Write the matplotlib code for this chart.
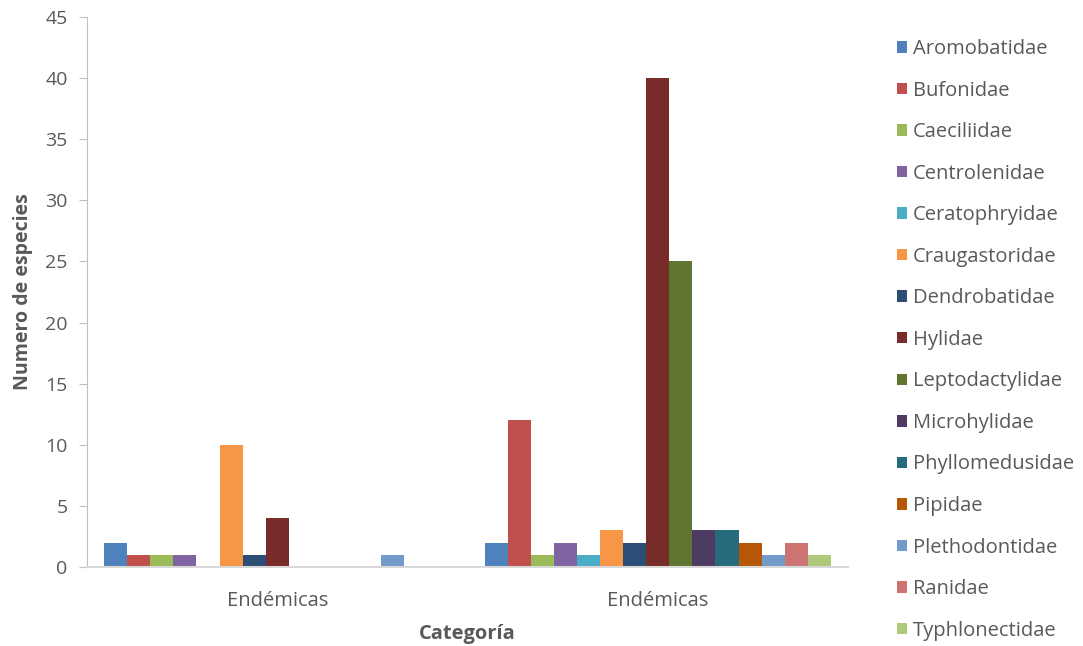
import matplotlib.pyplot as plt
import numpy as np

# categories on the x axis (both groups are labelled the same in the source)
categories = ['Endémicas', 'Endémicas']

families = ['Aromobatidae', 'Bufonidae', 'Caeciliidae', 'Centrolenidae',
            'Ceratophryidae', 'Craugastoridae', 'Dendrobatidae', 'Hylidae',
            'Leptodactylidae', 'Microhylidae', 'Phyllomedusidae', 'Pipidae',
            'Plethodontidae', 'Ranidae', 'Typhlonectidae']

# species count per family, first group / second group
group1 = [2, 1, 1, 1, 0, 10, 1, 4, 0, 0, 0, 0, 1, 0, 0]
group2 = [2, 12, 1, 2, 1, 3, 2, 40, 25, 3, 3, 2, 1, 2, 1]

colors = ['#4F81BD', '#C0504D', '#9BBB59', '#8064A2', '#4BACC6', '#F79646',
          '#2C4D75', '#772C2A', '#5F7530', '#4D3B62', '#276A7C', '#B65708',
          '#729ACA', '#CD7371', '#AFC97A']

plt.rcParams['font.family'] = ['Open Sans', 'DejaVu Sans']
txt = '#595959'

fig = plt.figure(figsize=(10.83, 6.46), dpi=100)
ax = fig.add_axes([87 / 1083, 1 - 567 / 646, 761 / 1083, 550 / 646])

n = len(families)
group_w = 0.91
w = group_w / n
x = np.arange(len(categories))
for i, fam in enumerate(families):
    vals = [group1[i], group2[i]]
    ax.bar(x - group_w / 2 + w * (i + 0.5), vals, w, color=colors[i],
           label=fam, edgecolor='none')

ax.set_xlim(-0.5, 1.5)
ax.set_ylim(0, 45)
ax.set_yticks(np.arange(0, 46, 5))
ax.set_xticks(x)
ax.set_xticklabels(categories)

for s in ['top', 'right']:
    ax.spines[s].set_visible(False)
ax.spines['left'].set_color('#BFBFBF')
ax.spines['bottom'].set_color('#D9D9D9')
ax.spines['bottom'].set_linewidth(1.5)
ax.tick_params(axis='y', colors='#BFBFBF', labelcolor=txt, labelsize=14,
               length=6, pad=8)
ax.tick_params(axis='x', length=0, labelcolor=txt, labelsize=14.5, pad=17)

ax.set_ylabel('Numero de especies', fontsize=14, fontweight='bold',
              color=txt, labelpad=9)
ax.set_xlabel('Categoría', fontsize=14.5, fontweight='bold', color=txt,
              labelpad=10)

leg = ax.legend(loc='upper left', frameon=False,
                fontsize=14.5, handlelength=0.5, handleheight=0.5,
                handletextpad=0.3, labelspacing=1.07, labelcolor=txt,
                borderaxespad=0.0, borderpad=0.0)
# place legend so that marker column starts near x=898 px
leg.set_bbox_to_anchor((897 / 1083, 1 - 39 / 646), transform=fig.transFigure)

plt.savefig('out.png', dpi=100)
